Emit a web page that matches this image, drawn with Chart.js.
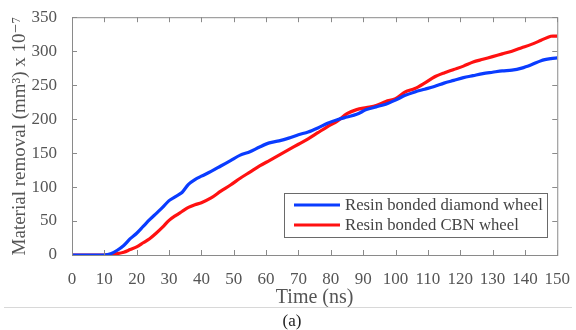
<!DOCTYPE html>
<html>
<head>
<meta charset="utf-8">
<script src="https://cdn.jsdelivr.net/npm/chart.js@4/dist/chart.umd.min.js"></script>
<style>
  html, body { margin: 0; padding: 0; background: #fff; }
  #wrap { width: 576px; height: 330px; }
</style>
</head>
<body>
<div id="wrap"><canvas id="removalChart" width="576" height="330"></canvas></div>
<script>
const timeNs = [0, 5, 10, 12, 14, 16, 18, 20, 22, 24, 26, 28, 30, 32, 34, 36, 38, 40, 43, 46, 49,
  52, 55, 58, 61, 64, 67, 70, 73, 76, 79, 82, 85, 88, 91, 94, 97, 100, 103, 106, 109,
  112, 115, 118, 121, 124, 127, 130, 133, 136, 139, 142, 145, 148, 150];

const diamondWheel = [0, 0, 0, 2, 7, 14, 24, 32, 42, 52, 61, 70, 80, 86, 92, 104, 111, 116, 123, 131, 139,
  147, 152, 159, 165, 168, 172, 177, 181, 187, 194, 199, 203, 207, 214, 218, 222, 228, 235, 240, 244,
  248, 253, 257, 261, 264, 267, 269, 271, 272, 275, 280, 286, 289, 290];

const cbnWheel = [0, 0, 0, 1, 2, 4, 8, 12, 18, 24, 32, 41, 51, 58, 64, 70, 74, 77, 84, 94, 103,
  113, 122, 131, 139, 147, 155, 163, 171, 180, 189, 197, 208, 214, 217, 220, 226, 230, 240, 245, 253,
  262, 268, 273, 278, 284, 288, 292, 296, 300, 305, 310, 316, 322, 322];

const seriesLabels = ["Resin bonded diamond wheel", "Resin bonded CBN wheel"];
const xTicks = [0, 10, 20, 30, 40, 50, 60, 70, 80, 90, 100, 110, 120, 130, 140, 150];
const yTicks = [0, 50, 100, 150, 200, 250, 300, 350];

const serif = "'Liberation Serif', 'DejaVu Serif', serif";
const axisGray = "#8a8a8a";
const textGray = "#555555";

function toPoints(ys) {
  return timeNs.map((t, i) => ({ x: t, y: ys[i] }));
}

// frame, inner ticks, legend box and caption
const framePlugin = {
  id: "frame",
  afterDatasetsDraw(chart) {
    const { ctx, chartArea: a, scales } = chart;
    ctx.save();
    ctx.strokeStyle = axisGray;
    ctx.lineWidth = 1;
    ctx.strokeRect(a.left + 0.5, a.top + 0.5, a.right - a.left, a.bottom - a.top);
    ctx.beginPath();
    xTicks.forEach(v => {
      const px = Math.round(scales.x.getPixelForValue(v)) + 0.5;
      ctx.moveTo(px, a.bottom); ctx.lineTo(px, a.bottom - 5);
      ctx.moveTo(px, a.top); ctx.lineTo(px, a.top + 5);
    });
    yTicks.forEach(v => {
      const py = Math.round(scales.y.getPixelForValue(v)) + 0.5;
      ctx.moveTo(a.left, py); ctx.lineTo(a.left + 5, py);
      ctx.moveTo(a.right, py); ctx.lineTo(a.right - 5, py);
    });
    ctx.stroke();

    // legend
    const lx = 284, ly = 193, lw = 263, lh = 44;
    ctx.fillStyle = "#fff";
    ctx.fillRect(lx, ly, lw, lh);
    ctx.strokeStyle = "#6a6a6a";
    ctx.strokeRect(lx + 0.5, ly + 0.5, lw, lh);
    ctx.font = "16.7px " + serif;
    ctx.textBaseline = "middle";
    chart.data.datasets.forEach((ds, i) => {
      const yy = ly + 12 + i * 20;
      ctx.strokeStyle = ds.borderColor;
      ctx.lineWidth = 3;
      ctx.beginPath();
      ctx.moveTo(lx + 10, yy); ctx.lineTo(lx + 56, yy);
      ctx.stroke();
      ctx.fillStyle = "#444";
      ctx.fillText(ds.label, lx + 61, yy + 1);
    });

    // separator and caption
    ctx.strokeStyle = "#d8d8d8";
    ctx.lineWidth = 1;
    ctx.beginPath();
    ctx.moveTo(4, 307.5); ctx.lineTo(572, 307.5);
    ctx.stroke();
    ctx.fillStyle = "#222";
    ctx.textAlign = "center";
    ctx.font = "17px " + serif;
    ctx.fillText("(a)", 292, 322);
    ctx.restore();
  }
};

const chart = new Chart(document.getElementById("removalChart"), {
  type: "line",
  data: {
    datasets: [{
      label: seriesLabels[0],
      data: toPoints(diamondWheel),
      borderColor: "#0a3cff",
      borderWidth: 3.2,
      pointRadius: 0,
      tension: 0.3
    }, {
      label: seriesLabels[1],
      data: toPoints(cbnWheel),
      borderColor: "#ff1111",
      borderWidth: 3.2,
      pointRadius: 0,
      tension: 0.3
    }]
  },
  options: {
    responsive: false,
    animation: false,
    layout: { padding: { left: 0, right: 15, top: 15, bottom: 20 } },
    plugins: {
      legend: { display: false },
      tooltip: { enabled: false }
    },
    scales: {
      x: {
        type: "linear",
        min: 0, max: 150,
        afterBuildTicks: s => { s.ticks = xTicks.map(v => ({ value: v })); },
        afterFit: s => { s.height = 55; },
        grid: { display: false },
        border: { display: false },
        ticks: { color: textGray, padding: 6, maxRotation: 0, autoSkip: false, font: { family: serif, size: 17 } },
        title: { display: true, text: "Time (ns)", color: textGray, padding: { top: 2, bottom: 0 }, font: { family: serif, size: 20 } }
      },
      y: {
        min: 0, max: 350,
        afterBuildTicks: s => { s.ticks = yTicks.map(v => ({ value: v })); },
        afterFit: s => { s.width = 72; },
        grid: { display: false },
        border: { display: false },
        ticks: { color: textGray, padding: 7, font: { family: serif, size: 17 } },
        title: { display: true, text: "Material removal (mm³) x 10⁻⁷", color: textGray, padding: { top: 9, bottom: 0 }, font: { family: serif, size: 19 } }
      }
    }
  },
  plugins: [framePlugin]
});
</script>
</body>
</html>
